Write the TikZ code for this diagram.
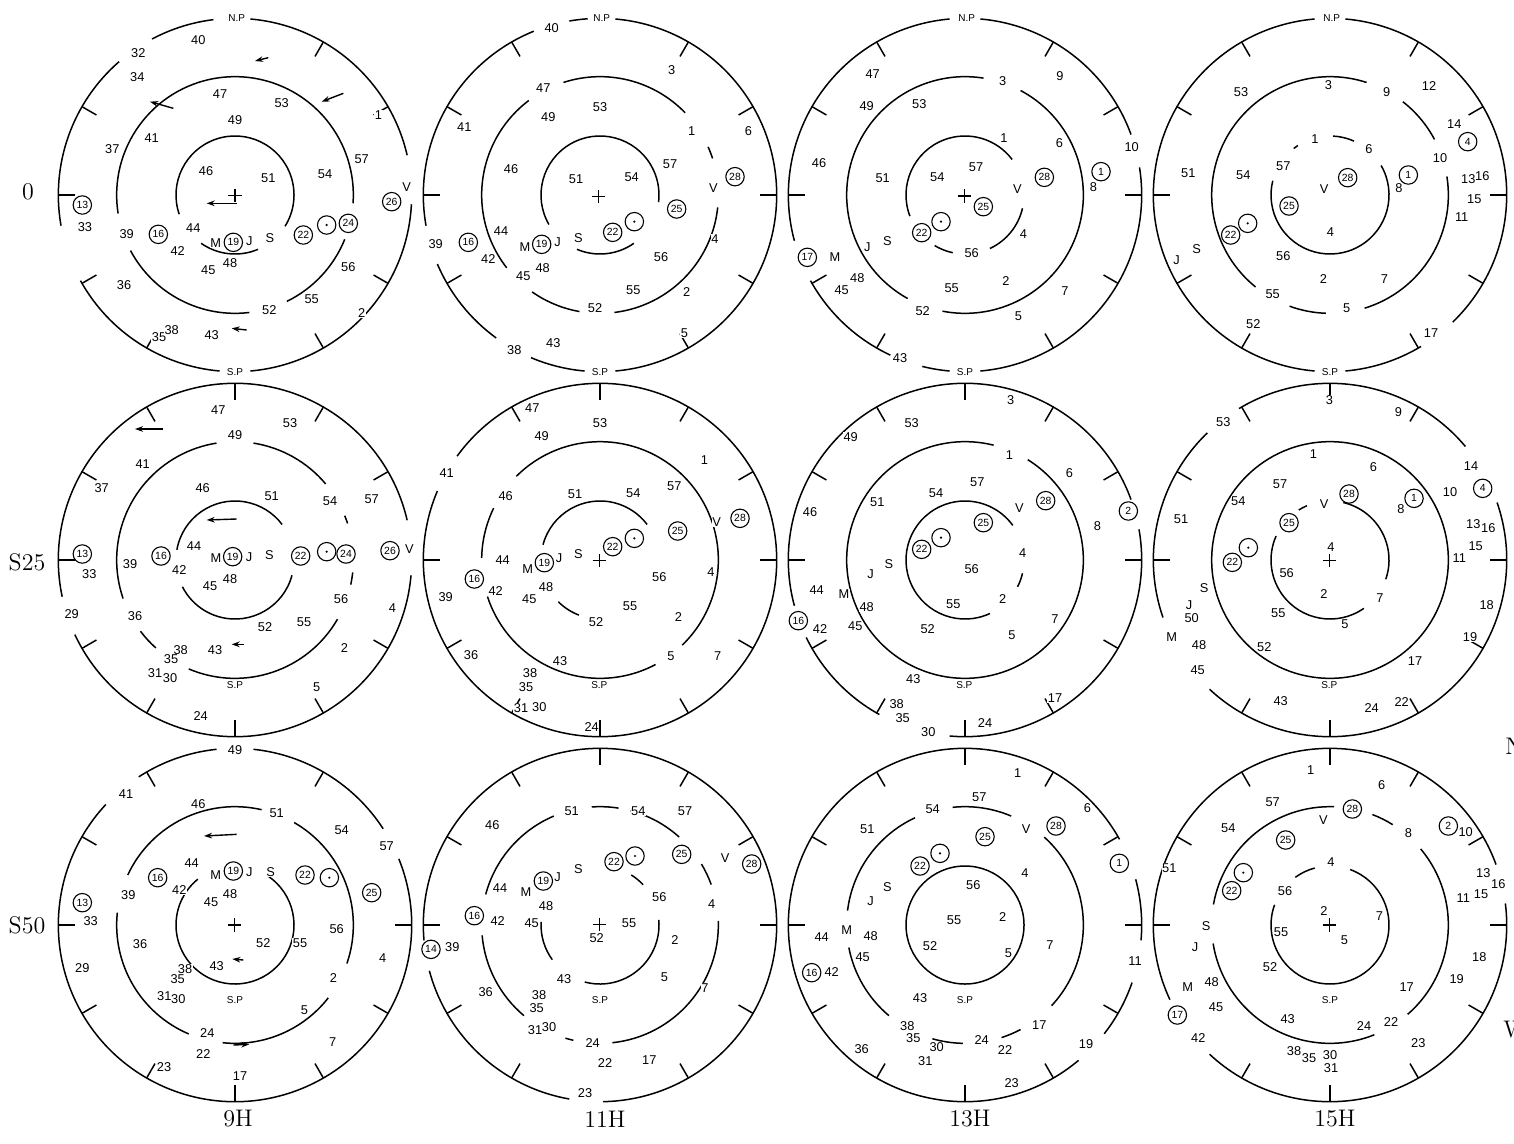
\documentclass[tikz,border=0pt]{standalone}
\usepackage{fontspec}
\usetikzlibrary{arrows.meta}
\newfontfamily\lbfam{Liberation Sans}
\newcommand\mylab{\lbfam\fontsize{6.4}{7}\selectfont}
\newcommand\mycirc{\lbfam\fontsize{5.2}{5.6}\selectfont}
\newcommand\mypole{\lbfam\fontsize{5}{5.5}\selectfont}
\tikzset{
 lb/.style={font=\mylab, fill=white, inner sep=0.3pt},
 cn/.style={circle, draw, line width=0.55pt, fill=white, minimum size=9.2pt, inner sep=0pt, font=\mycirc},
 sun/.style={circle, draw, line width=0.55pt, fill=white, minimum size=9.2pt, inner sep=0pt,
   path picture={\fill[black] (path picture bounding box.center) circle (0.6pt);}},
 pole/.style={font=\mypole, fill=white, inner sep=0.8pt},
 ring/.style={line width=0.75pt},
 arr/.style={line width=0.7pt, -{Stealth[length=4pt,width=2.8pt]}},
 big/.style={font=\fontsize{12}{14}\selectfont, inner sep=0pt},
 panel/.style={x=0.166667pt, y=-0.166667pt}
}
\begin{document}
\begin{tikzpicture}[x=0.5pt,y=-0.5pt]
\fill[white] (0,0) rectangle (1514,1144);
\useasboundingbox (0,0) rectangle (1514,1144);

% ---------------- Panel 1 (0, 9H)
\begin{scope}[shift={(50,5)}, panel]
\coordinate (c) at (555,570);
\foreach \r/\a/\b in {530/-85/-13, 530/3/85, 530/95/151, 530/170/229, 530/242/263,
  355/171/364, 355/22/64, 355/83/152, 177/161/392, 177/67/125}
  \draw[ring] (c) ++(\a:\r) arc[start angle=\a, end angle=\b, radius=\r];
\foreach \a in {30,60,120,150,180,210,300,330} \draw[ring] (c) ++(\a:530) -- ++(\a:-50);
\draw[ring] (535,572) -- (575,572) (555,552) -- (555,592);
\draw[arr] (655,158) -- (615,168);
\draw[arr] (880,265) -- (815,290);
\draw[arr] (370,310) -- (300,290);
\draw[arr] (560,595) -- (470,595);
\draw[arr] (590,975) -- (545,970);
\foreach \x/\y/\t in {445/105/40, 265/145/32, 262/215/34, 510/268/47, 695/295/53, 555/345/49, 985/330/1, 305/400/41, 187/432/37, 935/462/57, 468/498/46, 655/520/51, 825/508/54, 1070/545/V, 105/665/33, 230/688/39, 430/668/44, 660/698/S, 497/715/M, 598/707/J, 383/738/42, 540/775/48, 475/795/45, 895/787/56, 222/840/36, 785/882/55, 658/915/52, 935/925/2, 327/997/35, 365/975/38, 485/990/43}
  \node[lb] at (\x,\y) {\t};
\foreach \x/\y/\t in {97/600/13, 1025/590/26, 895/655/24, 325/688/16, 760/690/22, 550/712/19}
  \node[cn] at (\x,\y) {\t};
\node[sun] at (830,660) {};
\node[pole] at (560,40) {N.P};
\node[pole] at (555,1100) {S.P};
\end{scope}

% ---------------- Panel 2 (0, 11H)
\begin{scope}[shift={(415,5)}, panel]
\coordinate (c) at (555,570);
\foreach \r/\a/\b in {530/-85/85, 530/95/113, 530/126/157, 530/170/248, 530/260/266,
  355/-108/-44, 355/-24/-18, 355/6/83, 355/100/125, 355/142/233, 177/150/367, 177/55/113}
  \draw[ring] (c) ++(\a:\r) arc[start angle=\a, end angle=\b, radius=\r];
\foreach \a in {0,30,60,150,180,210,240,300,330} \draw[ring] (c) ++(\a:530) -- ++(\a:-50);
\draw[ring] (530,575) -- (570,575) (550,555) -- (550,595);
\foreach \x/\y/\t in {410/70/40, 770/195/3, 385/250/47, 555/305/53, 400/335/49, 148/365/41, 830/378/1, 1000/378/6, 288/492/46, 483/522/51, 650/515/54, 765/478/57, 895/550/V, 258/678/44, 62/718/39, 330/726/M, 428/710/J, 490/698/S, 900/703/4, 220/763/42, 383/788/48, 325/813/45, 738/757/56, 655/855/55, 815/860/2, 540/908/52, 808/983/5, 298/1035/38, 415/1015/43}
  \node[lb] at (\x,\y) {\t};
\foreach \x/\y/\t in {960/515/28, 785/612/25, 593/682/22, 160/712/16, 380/718/19}
  \node[cn] at (\x,\y) {\t};
\node[sun] at (658,650) {};
\node[pole] at (560,40) {N.P};
\node[pole] at (555,1100) {S.P};
\end{scope}

% ---------------- Panel 3 (0, 13H)
\begin{scope}[shift={(780,5)}, panel]
\coordinate (c) at (555,570);
\foreach \r/\a/\b in {530/-85/-20, 530/-9/85, 530/95/104, 530/115/151, 530/165/265,
  355/-62/101, 355/119/279, 177/13/65, 177/102/121, 177/159/323}
  \draw[ring] (c) ++(\a:\r) arc[start angle=\a, end angle=\b, radius=\r];
\foreach \a in {0,30,60,120,150,180,210,240,300,330} \draw[ring] (c) ++(\a:530) -- ++(\a:-50);
\draw[ring] (533,573) -- (573,573) (553,553) -- (553,593);
\foreach \x/\y/\t in {278/207/47, 668/228/3, 840/212/9, 260/303/49, 418/297/53, 672/398/1, 838/413/6, 1055/425/10, 117/475/46, 308/518/51, 472/515/54, 588/485/57, 940/545/8, 712/553/V, 730/688/4, 322/708/S, 262/725/J, 165/757/M, 575/745/56, 232/820/48, 185/855/45, 515/850/55, 678/828/2, 855/857/7, 428/918/52, 715/933/5, 360/1060/43}
  \node[lb] at (\x,\y) {\t};
\foreach \x/\y/\t in {793/517/28, 963/500/1, 610/605/25, 425/683/22, 82/757/17}
  \node[cn] at (\x,\y) {\t};
\node[sun] at (483,650) {};
\node[pole] at (560,40) {N.P};
\node[pole] at (555,1100) {S.P};
\end{scope}

% ---------------- Panel 4 (0, 15H)
\begin{scope}[shift={(1145,5)}, panel]
\coordinate (c) at (555,570);
\foreach \r/\a/\b in {530/-85/46, 530/59/85, 530/95/265,
  355/-9/73, 355/92/110, 355/129/288, 355/308/332, 177/-87/-66, 177/-128/-123, 177/-30/194}
  \draw[ring] (c) ++(\a:\r) arc[start angle=\a, end angle=\b, radius=\r];
\foreach \a in {0,30,60,120,150,180,210,240,300,330} \draw[ring] (c) ++(\a:530) -- ++(\a:-50);
\foreach \x/\y/\t in {550/240/3, 725/260/9, 852/242/12, 288/262/53, 928/357/14, 510/402/1, 672/432/6, 885/458/10, 415/482/57, 130/505/51, 295/510/54, 970/522/13, 1012/512/16, 762/548/8, 537/553/V, 988/583/15, 950/635/11, 556/680/4, 155/733/S, 95/765/J, 415/753/56, 535/822/2, 718/822/7, 383/868/55, 605/910/5, 325/958/52, 858/985/17}
  \node[lb] at (\x,\y) {\t};
\foreach \x/\y/\t in {968/410/4, 608/518/28, 790/510/1, 432/603/25, 257/690/22}
  \node[cn] at (\x,\y) {\t};
\node[sun] at (308,655) {};
\node[pole] at (560,40) {N.P};
\node[pole] at (555,1100) {S.P};
\end{scope}

% ---------------- Panel 5 (S25, 9H)
\begin{scope}[shift={(50,375)}, panel]
\coordinate (c) at (555,555);
\foreach \r/\a/\b in {530/5/155, 530/168/347,
  355/-81/-40, 355/-22/-18, 355/6/12, 355/30/113, 355/132/143, 355/161/261, 177/15/153, 177/190/323}
  \draw[ring] (c) ++(\a:\r) arc[start angle=\a, end angle=\b, radius=\r];
\foreach \a in {30,60,90,120,150,180,210,240,270,300,330} \draw[ring] (c) ++(\a:530) -- ++(\a:-50);
\draw[arr] (340,162) -- (255,162);
\draw[arr] (560,432) -- (470,435);
\draw[arr] (583,808) -- (545,808);
\foreach \x/\y/\t in {505/105/47, 720/143/53, 555/180/49, 278/268/41, 155/340/37, 458/338/46, 665/362/51, 840/378/54, 965/372/57, 118/598/33, 240/568/39, 432/512/44, 388/585/42, 498/550/M, 597/545/J, 658/540/S, 1078/522/V, 480/633/45, 540/612/48, 873/672/56, 1027/700/4, 65/718/29, 255/722/36, 645/755/52, 762/740/55, 392/825/38, 363/853/35, 495/825/43, 883/820/2, 315/893/31, 360/910/30, 800/937/5, 452/1022/24}
  \node[lb] at (\x,\y) {\t};
\foreach \x/\y/\t in {97/537/13, 333/543/16, 548/545/19, 752/543/22, 888/537/24, 1020/527/26}
  \node[cn] at (\x,\y) {\t};
\node[sun] at (830,530) {};
\node[pole] at (555,930) {S.P};
\end{scope}

% ---------------- Panel 6 (S25, 11H)
\begin{scope}[shift={(415,375)}, panel]
\coordinate (c) at (555,555);
\foreach \r/\a/\b in {530/-144/203,
  355/-135/46, 355/62/162, 355/181/206, 177/195/323, 177/111/135}
  \draw[ring] (c) ++(\a:\r) arc[start angle=\a, end angle=\b, radius=\r];
\foreach \a in {0,30,60,90,120,150,180,240,270,300,330} \draw[ring] (c) ++(\a:530) -- ++(\a:-50);
\draw[ring] (533,557) -- (573,557) (553,537) -- (553,577);
\foreach \x/\y/\t in {352/100/47, 555/143/53, 380/183/49, 868/255/1, 95/295/41, 778/333/57, 272/362/46, 480/358/51, 655/355/54, 905/440/V, 490/537/S, 432/550/J, 263/555/44, 338/583/M, 888/590/4, 733/607/56, 242/648/42, 393/635/48, 92/667/39, 343/672/45, 645/693/55, 790/727/2, 543/742/52, 168/840/36, 768/843/5, 908/843/7, 435/858/43, 345/895/38, 333/937/35, 318/1000/31, 373/997/30, 530/1055/24}
  \node[lb] at (\x,\y) {\t};
\foreach \x/\y/\t in {975/430/28, 788/468/25, 593/515/22, 388/563/19, 178/612/16}
  \node[cn] at (\x,\y) {\t};
\node[sun] at (658,490) {};
\node[pole] at (553,930) {S.P};
\end{scope}

% ---------------- Panel 7 (S25, 13H)
\begin{scope}[shift={(780,375)}, panel]
\coordinate (c) at (555,555);
\foreach \r/\a/\b in {530/-10/95, 530/119/154, 530/165/340,
  355/-58/284, 177/65/324, 177/13/27}
  \draw[ring] (c) ++(\a:\r) arc[start angle=\a, end angle=\b, radius=\r];
\foreach \a in {0,30,...,330} \draw[ring] (c) ++(\a:530) -- ++(\a:-50);
\foreach \x/\y/\t in {692/75/3, 395/143/53, 212/187/49, 688/240/1, 868/295/6, 592/320/57, 468/353/54, 292/380/51, 718/400/V, 90/410/46, 952/452/8, 728/533/4, 327/567/S, 575/583/56, 272/598/J, 110/645/44, 192/657/M, 520/688/55, 668/672/2, 260/697/48, 825/733/7, 120/762/42, 226/752/45, 443/762/52, 696/780/5, 400/912/43, 350/988/38, 825/970/17, 368/1028/35, 615/1045/24, 445/1070/30}
  \node[lb] at (\x,\y) {\t};
\foreach \x/\y/\t in {797/377/28, 1045/408/2, 610/443/25, 425/523/22, 55/737/16}
  \node[cn] at (\x,\y) {\t};
\node[sun] at (483,488) {};
\node[pole] at (553,930) {S.P};
\end{scope}

% ---------------- Panel 8 (S25, 15H)
\begin{scope}[shift={(1145,375)}, panel]
\coordinate (c) at (555,555);
\foreach \r/\a/\b in {530/-19/133, 530/161/226, 530/239/320,
  355/0/360, 177/-77/19, 177/55/204, 177/238/247}
  \draw[ring] (c) ++(\a:\r) arc[start angle=\a, end angle=\b, radius=\r];
\foreach \a in {0,30,60,90,120,180,210,240,270,300} \draw[ring] (c) ++(\a:530) -- ++(\a:-50);
\draw[ring] (533,557) -- (573,557) (553,537) -- (553,577);
\foreach \x/\y/\t in {553/75/3, 760/112/9, 235/140/53, 505/237/1, 685/275/6, 978/272/14, 405/327/57, 915/350/10, 280/378/54, 537/387/V, 768/403/8, 108/432/51, 985/448/13, 1030/458/16, 558/515/4, 992/512/15, 943/548/11, 425/595/56, 177/640/S, 537/658/2, 705/670/7, 1025/690/18, 132/690/J, 140/728/50, 400/715/55, 600/748/5, 80/787/M, 162/810/48, 975/785/19, 358/815/52, 810/858/17, 158/885/45, 407/977/43, 680/998/24, 770/980/22}
  \node[lb] at (\x,\y) {\t};
\foreach \x/\y/\t in {612/357/28, 807/370/1, 1013/340/4, 432/443/25, 262/562/22}
  \node[cn] at (\x,\y) {\t};
\node[sun] at (310,518) {};
\node[pole] at (553,930) {S.P};
\end{scope}

% ---------------- Panel 9 (S50, 9H)
\begin{scope}[shift={(50,740)}, panel]
\coordinate (c) at (555,555);
\foreach \r/\a/\b in {530/-84/-33, 530/-22/223, 530/237/264,
  355/-60/19, 355/38/96, 355/113/186, 355/205/283, 177/-57/231}
  \draw[ring] (c) ++(\a:\r) arc[start angle=\a, end angle=\b, radius=\r];
\foreach \a in {0,30,60,90,120,150,180,210,240,300} \draw[ring] (c) ++(\a:530) -- ++(\a:-50);
\draw[ring] (533,555) -- (573,555) (553,535) -- (553,575);
\draw[arr] (560,283) -- (462,288);
\draw[arr] (580,660) -- (547,657);
\draw[arr] (550,915) -- (598,913);
\foreach \x/\y/\t in {555/30/49, 228/163/41, 445/193/46, 680/218/51, 875/270/54, 1010/318/57, 425/368/44, 497/405/M, 598/397/J, 662/397/S, 388/450/42, 235/465/39, 540/463/48, 483/487/45, 122/543/33, 860/568/56, 270/613/36, 640/608/52, 750/608/55, 998/655/4, 97/685/29, 405/688/38, 500/678/43, 383/718/35, 850/715/2, 343/768/31, 385/778/30, 763/810/5, 472/880/24, 848/905/7, 460/943/22, 342/980/23, 570/1008/17}
  \node[lb] at (\x,\y) {\t};
\foreach \x/\y/\t in {323/413/16, 550/393/19, 765/405/22, 965/458/25, 97/488/13}
  \node[cn] at (\x,\y) {\t};
\node[sun] at (838,413) {};
\node[pole] at (555,780) {S.P};
\end{scope}

% ---------------- Panel 10 (S50, 11H)
\begin{scope}[shift={(415,740)}, panel]
\coordinate (c) at (555,555);
\foreach \r/\a/\b in {530/175/449, 530/100/165,
  355/-94/-81, 355/-75/-48, 355/-31/-20, 355/-2/84, 355/103/107, 355/130/175, 355/195/247,
  177/-5/105, 177/144/183, 177/-58/-43}
  \draw[ring] (c) ++(\a:\r) arc[start angle=\a, end angle=\b, radius=\r];
\foreach \a in {0,30,60,120,150,180,210,240,270,300,330} \draw[ring] (c) ++(\a:530) -- ++(\a:-50);
\draw[ring] (533,553) -- (573,553) (553,533) -- (553,573);
\foreach \x/\y/\t in {470/213/51, 670/212/54, 810/212/57, 232/255/46, 930/355/V, 490/387/S, 428/410/J, 255/445/44, 333/457/M, 733/470/56, 393/497/48, 890/492/4, 248/542/42, 350/548/45, 642/550/55, 545/593/52, 780/600/2, 112/620/39, 748/712/5, 447/717/43, 870/745/7, 212/755/36, 372/765/38, 365/805/35, 360/870/31, 402/862/30, 533/908/24, 570/968/22, 703/960/17, 510/1058/23}
  \node[lb] at (\x,\y) {\t};
\foreach \x/\y/\t in {800/343/25, 597/365/22, 1010/372/28, 385/423/19, 178/527/16, 48/628/14}
  \node[cn] at (\x,\y) {\t};
\node[sun] at (660,348) {};
\node[pole] at (555,780) {S.P};
\end{scope}

% ---------------- Panel 11 (S50, 13H)
\begin{scope}[shift={(780,740)}, panel]
\coordinate (c) at (555,555);
\foreach \r/\a/\b in {530/-15/5, 530/19/38, 530/50/331,
  355/-96/-67, 355/-48/43, 355/62/72, 355/91/106, 355/130/169, 355/187/245, 177/0/360}
  \draw[ring] (c) ++(\a:\r) arc[start angle=\a, end angle=\b, radius=\r];
\foreach \a in {0,30,...,330} \draw[ring] (c) ++(\a:530) -- ++(\a:-50);
\foreach \x/\y/\t in {713/100/1, 598/172/57, 922/203/6, 458/208/54, 262/268/51, 738/268/V, 735/398/4, 322/440/S, 580/435/56, 272/483/J, 522/540/55, 668/530/2, 200/570/M, 125/590/44, 272/588/48, 810/615/7, 450/618/52, 685/640/5, 248/650/45, 1065/663/11, 155/695/42, 420/773/43, 382/857/38, 778/855/17, 400/893/35, 605/900/24, 470/920/30, 675/930/22, 436/962/31, 245/928/36, 918/912/19, 695/1030/23}
  \node[lb] at (\x,\y) {\t};
\foreach \x/\y/\t in {828/258/28, 615/290/25, 1018/370/1, 420/378/22, 95/698/16}
  \node[cn] at (\x,\y) {\t};
\node[sun] at (480,340) {};
\node[pole] at (555,780) {S.P};
\end{scope}

% ---------------- Panel 12 (S50, 15H)
\begin{scope}[shift={(1145,740)}, panel]
\coordinate (c) at (555,555);
\foreach \r/\a/\b in {530/-7/133, 530/155/340,
  355/-69/-58, 355/-40/49, 355/68/171, 355/190/272, 177/-70/200, 177/234/255}
  \draw[ring] (c) ++(\a:\r) arc[start angle=\a, end angle=\b, radius=\r];
\foreach \a in {0,30,60,90,120,180,210,240,270,300,330} \draw[ring] (c) ++(\a:530) -- ++(\a:-50);
\draw[ring] (533,555) -- (573,555) (553,535) -- (553,575);
\foreach \x/\y/\t in {497/90/1, 710/135/6, 383/187/57, 535/240/V, 250/265/54, 962/275/10, 790/278/8, 558/367/4, 73/385/51, 1015/400/13, 1060/433/16, 420/453/56, 955/473/11, 1008/462/15, 537/512/2, 703/528/7, 183/557/S, 408/575/55, 598/600/5, 150/622/J, 1003/650/18, 375/680/52, 200/727/48, 935/717/19, 128/742/M, 785/740/17, 213/800/45, 428/837/43, 657/857/24, 738/847/22, 160/895/42, 820/910/23, 447/932/38, 492/953/35, 555/945/30, 558/983/31}
  \node[lb] at (\x,\y) {\t};
\foreach \x/\y/\t in {622/207/28, 910/258/2, 422/300/25, 260/452/22, 97/825/17}
  \node[cn] at (\x,\y) {\t};
\node[sun] at (295,398) {};
\node[pole] at (555,780) {S.P};
\end{scope}

% ---------------- row and column labels
\node[big] (r0) at (28,192) {0};
\node[big] (r25) at (27,562) {S25};
\node[big] (r50) at (27,925) {S50};
\node[big] (c9) at (238,1119) {9H};
\node[big] (c11) at (605,1119) {11H};
\node[big] (c13) at (970,1119) {13H};
\node[big] (c15) at (1335,1119) {15H};
\node[big, anchor=west] (nN) at (1505,746) {N};
\node[big, anchor=west] (nW) at (1503,1030) {W};
\end{tikzpicture}
\end{document}
